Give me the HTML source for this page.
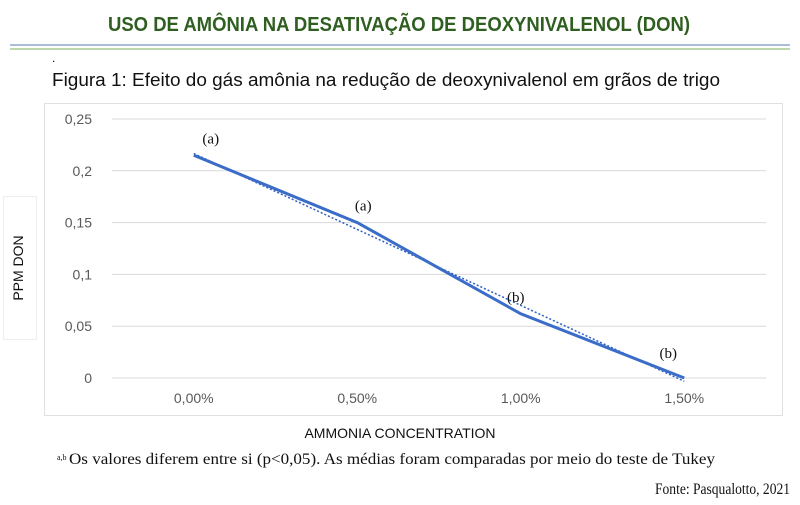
<!DOCTYPE html>
<html><head><meta charset="utf-8"><style>
body{margin:0;width:800px;height:505px;background:#fff;overflow:hidden;font-family:"Liberation Sans",sans-serif}
svg{position:absolute;left:0;top:0}
</style></head><body>
<svg id="c" width="800" height="505">
<text x="108" y="31" textLength="582" lengthAdjust="spacingAndGlyphs" font-size="20" font-weight="bold" fill="#2f5f20">USO DE AMÔNIA NA DESATIVAÇÃO DE DEOXYNIVALENOL (DON)</text>
<line x1="10" y1="45" x2="790" y2="45" stroke="#8fa8c8" stroke-width="1.5"/>
<line x1="10" y1="49" x2="790" y2="49" stroke="#a8c890" stroke-width="1.5"/>
<text x="52" y="62" font-size="12">.</text>
<text x="52" y="86" textLength="668" lengthAdjust="spacingAndGlyphs" font-size="18" fill="#111">Figura 1: Efeito do gás amônia na redução de deoxynivalenol em grãos de trigo</text>
<rect x="44.5" y="103.5" width="738" height="312" fill="#fff" stroke="#e0e0e0"/>
<rect x="3.5" y="196.5" width="33" height="143" fill="#fff" stroke="#eee"/>
<text transform="translate(23,268) rotate(-90)" text-anchor="middle" font-size="14" fill="#111">PPM DON</text>
<text x="400" y="438" text-anchor="middle" font-size="14" fill="#111">AMMONIA CONCENTRATION</text>
<text x="57" y="460" font-size="8" fill="#111" font-family="'Liberation Serif',serif">a,b</text>
<text x="69" y="464" textLength="646" lengthAdjust="spacingAndGlyphs" font-size="16" fill="#111" font-family="'Liberation Serif',serif">Os valores diferem entre si (p&lt;0,05). As médias foram comparadas por meio do teste de Tukey</text>
<text x="655" y="494" textLength="135" lengthAdjust="spacingAndGlyphs" font-size="16" fill="#111" font-family="'Liberation Serif',serif">Fonte: Pasqualotto, 2021</text>
<g id="plot"></g>
</svg>
<script>
const categories=["0,00%","0,50%","1,00%","1,50%"];
const values=[0.215,0.15,0.062,0.0];
const letters=["(a)","(a)","(b)","(b)"];
const yTicks=[0,0.05,0.1,0.15,0.2,0.25];
const yTickLabels=["0","0,05","0,1","0,15","0,2","0,25"];
const NS="http://www.w3.org/2000/svg";
const g=document.getElementById('plot');
const x0=112,x1=766,yb=378,yt=119;
const xs=i=>x0+(x1-x0)*(i+0.5)/categories.length;
const ys=v=>yb-(yb-yt)*v/0.25;
function mk(t,a){const e=document.createElementNS(NS,t);for(const k in a)e.setAttribute(k,a[k]);g.appendChild(e);return e;}
yTicks.forEach((v,i)=>{
 const l=mk('line',{x1:x0,x2:x1,y1:ys(v),y2:ys(v),stroke:'#d9d9d9','stroke-width':1});
 
 
 const t=mk('text',{x:92,y:ys(v)+5,'text-anchor':'end','font-size':14,fill:'#595959'});
 t.textContent=yTickLabels[i];
 
 
});
categories.forEach((c,i)=>{
 const t=mk('text',{x:xs(i),y:403,'text-anchor':'middle','font-size':14,fill:'#595959'});
 t.textContent=c;
 
 
});
const n=values.length;let sx=0,sy=0,sxy=0,sxx=0;
values.forEach((v,i)=>{sx+=i;sy+=v;sxy+=i*v;sxx+=i*i;});
const b=(n*sxy-sx*sy)/(n*sxx-sx*sx),a=(sy-b*sx)/n;
const tr=mk('line',{x1:xs(0),y1:ys(a),x2:xs(n-1),y2:ys(a+b*(n-1)),stroke:'#2f5fbf','stroke-width':1.5,'stroke-dasharray':'2,2'});


const p=mk('polyline',{points:values.map((v,i)=>xs(i)+','+ys(v)).join(' '),fill:'none',stroke:'#3a6cc8','stroke-width':3});


values.forEach((v,i)=>{
 const t=mk('text',{x:xs(i)+17-i*11,y:ys(v)-12-(i===3?8:0),'text-anchor':'middle','font-size':15,fill:'#111','font-family':"'Liberation Serif',serif"});
 t.textContent=letters[i];
 
 
});
</script>
</body></html>
